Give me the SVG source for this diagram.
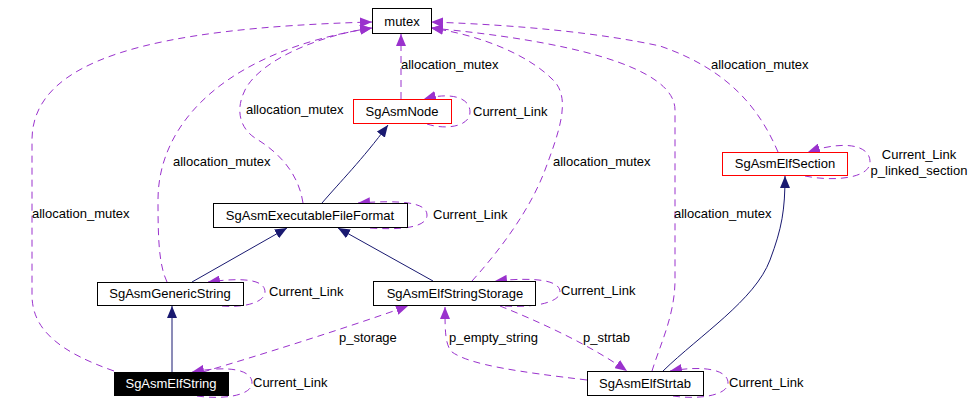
<svg xmlns="http://www.w3.org/2000/svg" width="977" height="411" viewBox="0 0 977 411">
<style>
text{font-family:"Liberation Sans",Arial,sans-serif;font-size:13px;fill:#000}
.box{fill:#fff;stroke:#000;stroke-width:1}
.rbox{fill:#fff;stroke:#ff0000;stroke-width:1}
.sbox{fill:#000;stroke:#000;stroke-width:1}
.n text{text-anchor:middle}
.n text.w{fill:#fff}
.u{fill:none;stroke:#9a32cd;stroke-width:1;stroke-dasharray:7,5}
.i{fill:none;stroke:#191970;stroke-width:1}
</style>
<defs>
<marker id="ap" markerUnits="userSpaceOnUse" markerWidth="12" markerHeight="10" refX="12" refY="5" orient="auto" viewBox="0 0 12 10"><path d="M0,0L12,5L0,10z" fill="#9a32cd"/></marker>
<marker id="ai" markerUnits="userSpaceOnUse" markerWidth="12" markerHeight="10" refX="12" refY="5" orient="auto" viewBox="0 0 12 10"><path d="M0,0L12,5L0,10z" fill="#191970"/></marker>
</defs>
<g id="edges">
<path class="i" marker-end="url(#ai)" d="M322,203 C340,182 362,160 388,125"/>
<path class="i" marker-end="url(#ai)" d="M192,282 L287,228"/>
<path class="i" marker-end="url(#ai)" d="M433,281 L338,228"/>
<path class="i" marker-end="url(#ai)" d="M172,372 L172,306"/>
<path class="i" marker-end="url(#ai)" d="M663,371 C700,335 755,300 770,260 C782,228 785,210 785,176"/>
<path class="u" marker-end="url(#ap)" d="M114,371 C60,352 32,330 32,295 L32,140 C32,60 150,28 372,22"/>
<path class="u" marker-end="url(#ap)" d="M167,282 C159,265 158,240 158,200 C158,120 230,50 372,28"/>
<path class="u" marker-end="url(#ap)" d="M303,203 C298,170 275,150 255,138 C240,128 235,110 245,90 C260,60 320,35 372,28"/>
<path class="u" marker-end="url(#ap)" d="M401,99 L401,34"/>
<path class="u" marker-end="url(#ap)" d="M472,281 C500,250 530,210 545,170 C560,130 570,100 555,82 C530,55 480,35 431,28"/>
<path class="u" marker-end="url(#ap)" d="M652,371 C660,345 675,315 675,280 L675,110 C675,65 560,40 431,28"/>
<path class="u" marker-end="url(#ap)" d="M778,152 C760,110 730,70 660,46 C600,33 520,25 431,22"/>
<path class="u" marker-end="url(#ap)" d="M427,124 C445,130 470,127 470,112 C470,97 450,92 424,99"/>
<path class="u" marker-end="url(#ap)" d="M370,228 C400,230 427,228 427,215 C427,202 400,200 358,203"/>
<path class="u" marker-end="url(#ap)" d="M222,306 C245,308 265,302 265,292 C265,280 245,277 208,282"/>
<path class="u" marker-end="url(#ap)" d="M505,306 C535,308 560,302 560,292 C560,280 535,277 495,281"/>
<path class="u" marker-end="url(#ap)" d="M197,396 C225,400 252,395 252,383 C252,370 230,365 192,372"/>
<path class="u" marker-end="url(#ap)" d="M673,396 C700,400 728,395 728,383 C728,370 705,365 670,371"/>
<path class="u" marker-end="url(#ap)" d="M805,176 C835,182 870,178 870,162 C870,145 845,140 808,152"/>
<path class="u" marker-end="url(#ap)" d="M203,372 C260,355 340,330 408,306"/>
<path class="u" marker-end="url(#ap)" d="M500,306 C540,322 590,345 627,371"/>
<path class="u" marker-end="url(#ap)" d="M587,380 C520,372 470,365 452,352 C445,345 445,330 445,307"/>
<text x="32" y="218">allocation_mutex</text>
<text x="173" y="166">allocation_mutex</text>
<text x="246" y="114">allocation_mutex</text>
<text x="401" y="69">allocation_mutex</text>
<text x="553" y="166">allocation_mutex</text>
<text x="711" y="69">allocation_mutex</text>
<text x="674" y="218">allocation_mutex</text>
<text x="473" y="116">Current_Link</text>
<text x="433" y="219">Current_Link</text>
<text x="269" y="296">Current_Link</text>
<text x="561" y="295">Current_Link</text>
<text x="253" y="387">Current_Link</text>
<text x="729" y="387">Current_Link</text>
<text x="919" y="159" text-anchor="middle">Current_Link</text>
<text x="919" y="175" text-anchor="middle">p_linked_section</text>
<text x="339" y="342">p_storage</text>
<text x="449" y="342">p_empty_string</text>
<text x="583" y="342">p_strtab</text>
</g>
<g id="mutex" class="n"><rect class="box" x="372.5" y="8.5" width="59" height="25"/><text x="402" y="26">mutex</text></g>
<g id="SgAsmNode" class="n"><rect class="rbox" x="353.5" y="99.5" width="98" height="24"/><text x="402" y="116">SgAsmNode</text></g>
<g id="SgAsmElfSection" class="n"><rect class="rbox" x="722.5" y="152.5" width="125" height="23"/><text x="785" y="168">SgAsmElfSection</text></g>
<g id="SgAsmExecutableFileFormat" class="n"><rect class="box" x="213.5" y="203.5" width="194" height="24"/><text x="310" y="220">SgAsmExecutableFileFormat</text></g>
<g id="SgAsmGenericString" class="n"><rect class="box" x="97.5" y="282.5" width="146" height="23"/><text x="170" y="298">SgAsmGenericString</text></g>
<g id="SgAsmElfStringStorage" class="n"><rect class="box" x="373.5" y="281.5" width="162" height="24"/><text x="455" y="298">SgAsmElfStringStorage</text></g>
<g id="SgAsmElfString" class="n"><rect class="sbox" x="114.5" y="372.5" width="114" height="23"/><text class="w" x="171" y="388">SgAsmElfString</text></g>
<g id="SgAsmElfStrtab" class="n"><rect class="box" x="587.5" y="371.5" width="116" height="24"/><text x="645" y="388">SgAsmElfStrtab</text></g>
</svg>
